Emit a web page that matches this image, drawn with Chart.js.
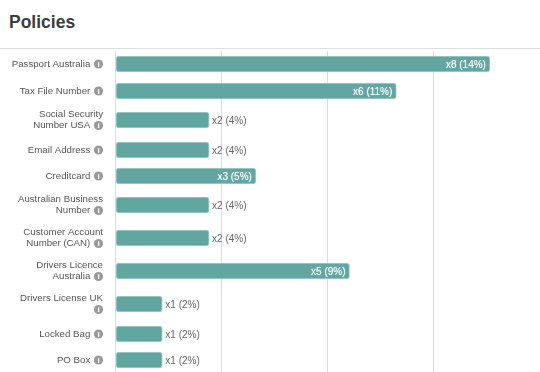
<!DOCTYPE html>
<html><head><meta charset="utf-8">
<script src="https://cdn.jsdelivr.net/npm/chart.js@4"></script>
<style>
html,body{margin:0;padding:0;background:#fff;width:540px;height:372px;overflow:hidden}
#title{position:absolute;left:9px;top:11px;margin:0;font:bold 17.5px "Liberation Sans",Arial,sans-serif;color:#3d3d3d;line-height:22px}
#rule{position:absolute;left:0;top:48px;width:540px;height:1px;background:#ddd}
#wrap{position:absolute;left:0;top:51px;width:540px;height:321px}
canvas{display:block}
</style></head><body>
<h1 id="title">Policies</h1><div id="rule"></div>
<div id="wrap"><canvas id="c" width="540" height="321"></canvas></div>
<script>
const gap = '    \u2009';
const categories = [
  ['Passport Australia' + gap],
  ['Tax File Number' + gap],
  ['Social Security','Number USA' + gap],
  ['Email Address' + gap],
  ['Creditcard' + gap],
  ['Australian Business','Number' + gap],
  ['Customer Account','Number (CAN)' + gap],
  ['Drivers Licence','Australia' + gap],
  ['Drivers License UK',gap],
  ['Locked Bag' + gap],
  ['PO Box' + gap]
];
const counts = [8,6,2,2,3,2,2,5,1,1,1];
const percents = [14,11,4,4,5,4,4,9,2,2,2];
const rowCentres = [13,40,69,99,125,154,187,220,253,283,309];
const xMax = 9.07, gridStep = 2.267;

class RowScale extends Chart.CategoryScale {
  getPixelForValue(value, index) {
    const i = (index !== undefined && index !== null) ? index : value;
    return this.top + rowCentres[i];
  }
}
RowScale.id = 'rows';
RowScale.defaults = Chart.CategoryScale.defaults;
Chart.register(RowScale);

const extras = {
  id: 'extras',
  afterDatasetsDraw(chart) {
    const {ctx} = chart, y = chart.scales.y, meta = chart.getDatasetMeta(0);
    ctx.save();
    ctx.textBaseline = 'middle';
    meta.data.forEach((bar, i) => {
      ctx.font = '10px "Liberation Sans", Arial, sans-serif';
      const txt = 'x' + counts[i] + ' (' + percents[i] + '%)';
      if (counts[i] >= 3) {
        ctx.fillStyle = '#fff'; ctx.textAlign = 'right';
        ctx.shadowColor = 'rgba(255,255,255,0.6)'; ctx.shadowBlur = 1;
        ctx.fillText(txt, bar.x - 4, bar.y + 1);
        ctx.shadowBlur = 0; ctx.shadowColor = 'transparent';
      } else {
        ctx.fillStyle = '#666'; ctx.textAlign = 'left';
        ctx.fillText(txt, bar.x + 3, bar.y + 1.5);
      }
      const lines = categories[i].length;
      const iy = y.getPixelForValue(i, i) + (lines > 1 ? 5.5 : 0);
      const ix = 98.5;
      ctx.fillStyle = '#9a9a9a';
      ctx.beginPath(); ctx.arc(ix, iy, 4.6, 0, Math.PI * 2); ctx.fill();
      ctx.fillStyle = '#fff'; ctx.textAlign = 'center';
      ctx.font = 'bold 8px "Liberation Sans", Arial, sans-serif';
      ctx.fillText('i', ix, iy + 0.5);
    });
    ctx.restore();
  }
};

new Chart(document.getElementById('c'), {
  type: 'bar',
  data: {
    labels: categories,
    datasets: [{
      data: counts,
      backgroundColor: '#62a6a1',
      borderColor: '#a9cfcb',
      borderWidth: 1,
      borderRadius: 3,
      borderSkipped: false,
      barThickness: 16
    }]
  },
  options: {
    indexAxis: 'y',
    responsive: false,
    animation: false,
    layout: {padding: 0},
    plugins: {legend: {display: false}, tooltip: {enabled: false}},
    scales: {
      x: {
        min: 0, max: xMax,
        position: 'top',
        ticks: {display: false, stepSize: gridStep},
        afterBuildTicks(s) { s.ticks = s.ticks.slice(0, 4); },
        afterFit(s) { s.height = 0; },
        grid: {color: '#dcdcdc', lineWidth: 1, drawTicks: false},
        border: {display: false}
      },
      y: {
        type: 'rows',
        grid: {display: false, drawTicks: false},
        border: {display: false},
        afterFit(s) { s.width = 115.5; s.paddingTop = 0; s.paddingBottom = 0; },
        ticks: {
          autoSkip: false,
          padding: 12.5,
          color: '#555',
          font: {family: '"Liberation Sans", Arial, sans-serif', size: 9.7, lineHeight: 1.13}
        }
      }
    }
  },
  plugins: [extras]
});
</script>
</body></html>
